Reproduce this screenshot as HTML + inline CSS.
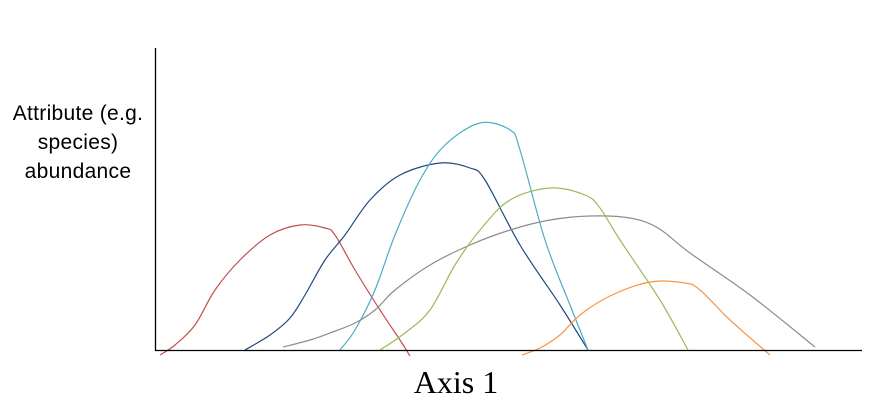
<!DOCTYPE html>
<html><head><meta charset="utf-8"><style>
html,body{margin:0;padding:0;background:#fff;width:876px;height:408px;overflow:hidden}
svg{display:block}
</style></head><body>
<svg id="chart" width="876" height="408" xmlns="http://www.w3.org/2000/svg">
<g id="curves"></g>
<line x1="155.5" y1="48" x2="155.5" y2="351" stroke="#000" stroke-width="1.3"/>
<line x1="155" y1="350.5" x2="862" y2="350.5" stroke="#000" stroke-width="1.3"/>
<text x="456" y="393" text-anchor="middle" font-family="Liberation Serif, serif" font-size="32">Axis 1</text>
<g font-family="Liberation Sans, sans-serif" font-size="21" text-anchor="middle" letter-spacing="0.3">
<text x="78" y="120">Attribute (e.g.</text>
<text x="78" y="149">species)</text>
<text x="78" y="178">abundance</text>
</g>
</svg>
<script>
// Axis positions along Axis 1 (0..707) and abundance (0..302)
const redX = [5,20,40,60,85,115,145,170,180,200,225,245,255];
const redY = [-5,5,25,60,90,115,125,122,115,80,40,10,-6];
const navyX = [90,115,135,150,170,190,215,245,285,315,330,365,405,433];
const navyY = [0,15,32,55,90,115,150,175,187,182,170,105,45,0];
const cyanX = [185,200,220,240,265,290,325,355,365,390,415,433];
const cyanY = [0,20,60,115,170,205,227,220,200,110,45,0];
const grayX = [128,155,175,200,220,240,275,315,355,395,435,475,503,535,595,660];
const grayY = [3,10,17,27,40,60,85,105,120,130,134,132,122,97,55,3];
const greenX = [225,250,275,300,325,355,395,430,445,465,505,533];
const greenY = [0,17,40,85,120,150,162,155,142,110,50,0];
const orangeX = [367,385,405,425,455,495,530,545,575,615];
const orangeY = [-5,2,15,35,54,68,67,60,30,-5];
const seriesNames = ['red','navy','cyan','gray','green','orange'];
const seriesColors = ['#c0504d','#1f497d','#4bacc6','#8c8c8c','#9bbb59','#f79646'];
const seriesX = [redX,navyX,cyanX,grayX,greenX,orangeX];
const seriesY = [redY,navyY,cyanY,grayY,greenY,orangeY];

function sx(v){return 155+v;}
function sy(v){return 350-v;}
function smooth(pts){
  let d='M'+pts[0][0]+','+pts[0][1];
  for(let i=0;i<pts.length-1;i++){
    const p0=pts[i-1]||pts[i],p1=pts[i],p2=pts[i+1],p3=pts[i+2]||p2;
    const c1x=p1[0]+(p2[0]-p0[0])/6,c1y=p1[1]+(p2[1]-p0[1])/6;
    const c2x=p2[0]-(p3[0]-p1[0])/6,c2y=p2[1]-(p3[1]-p1[1])/6;
    d+=' C'+c1x+','+c1y+' '+c2x+','+c2y+' '+p2[0]+','+p2[1];
  }
  return d;
}
const g=document.getElementById('curves');
for(let s=0;s<seriesX.length;s++){
  const pts=seriesX[s].map((x,i)=>[sx(x),sy(seriesY[s][i])]);
  const p=document.createElementNS('http://www.w3.org/2000/svg','path');
  p.setAttribute('d',smooth(pts));
  p.setAttribute('fill','none');
  p.setAttribute('stroke',seriesColors[s]);
  p.setAttribute('stroke-width','1.2');
  
  
  g.appendChild(p);
}
</script>
</body></html>
